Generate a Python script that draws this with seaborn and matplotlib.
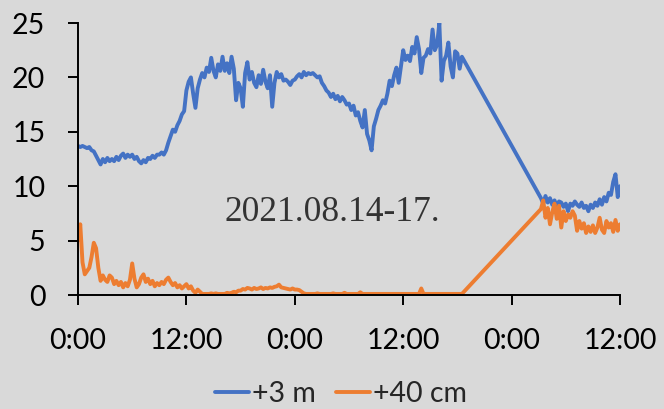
import numpy as np
import pandas as pd
import matplotlib
matplotlib.use("Agg")
import matplotlib.pyplot as plt
from matplotlib.lines import Line2D
import seaborn as sns

# ---- data (hours from start) ----
seg1_start = 0.0
seg2_start = 51.25
step = 0.25

blue_seg1 = [
    13.7, 13.6, 13.7, 13.6,
    13.5, 13.6, 13.3, 13.2,
    12.8, 12.4, 12.0, 12.5,
    12.2, 12.6, 12.3, 12.5,
    12.3, 12.7, 12.4, 12.8,
    13.0, 12.6, 12.9, 12.7,
    12.9, 12.5, 12.7, 12.3,
    12.1, 12.4, 12.2, 12.6,
    12.5, 12.8, 12.6, 12.9,
    12.9, 13.1, 12.9, 13.3,
    14.0, 14.6, 15.2, 15.0,
    15.6, 16.0, 16.6, 16.9,
    18.8, 19.6, 20.0, 18.5,
    17.2, 19.0, 19.8, 20.4,
    20.0, 20.9, 20.5, 21.8,
    20.6, 20.0, 21.2, 20.6,
    21.9, 20.6, 21.3, 20.4,
    21.9, 20.8, 17.9, 19.5,
    19.0, 17.3, 20.4, 21.4,
    19.8, 20.5, 19.5, 19.1,
    20.2, 19.4, 20.7, 19.6,
    19.0, 20.2, 17.3, 19.5,
    20.5, 20.0, 20.3, 19.7,
    19.8, 19.6, 19.3, 19.7,
    19.8, 20.1, 20.3, 20.0,
    20.5, 20.2, 20.4, 20.3,
    20.4, 20.2, 20.0, 20.1,
    19.5, 19.2, 18.8, 18.6,
    18.2, 18.5, 18.0, 18.3,
    17.8, 18.2, 17.9, 17.5,
    17.6, 17.0, 17.4, 16.5,
    16.8, 16.0, 15.4, 17.0,
    14.8, 14.2, 13.3, 15.5,
    16.2, 17.0, 17.4, 17.9,
    17.6, 18.5, 19.7, 19.2,
    20.2, 20.9, 19.5, 21.0,
    22.5, 21.6, 22.0, 21.5,
    22.8, 22.2, 23.7, 22.6,
    20.4, 21.8, 22.0, 22.6,
    22.2, 24.4, 22.5, 23.0,
    25.0, 19.7, 21.5, 22.0,
    23.2, 21.0, 20.0, 22.4,
    22.2, 20.8, 21.9,
]
blue_seg2 = [
    8.9, 8.4, 9.1,
    8.5, 8.9, 8.3, 8.7,
    8.2, 8.6, 8.5, 8.1,
    8.4, 7.7, 8.4, 8.2,
    8.6, 8.3, 8.1, 8.5,
    8.0, 8.2, 7.7, 8.3,
    8.0, 8.5, 8.2, 8.8,
    8.3, 9.0, 8.6, 9.4,
    9.2, 10.4, 11.1, 9.0,
    10.0,
]
orange_seg1 = [
    5.0, 6.5, 3.0, 1.9,
    2.2, 2.5, 3.5, 4.8,
    4.3, 2.5, 1.3, 1.8,
    1.4, 1.2, 1.8, 1.6,
    1.0, 1.3, 0.9, 1.2,
    0.7, 1.1, 0.8, 1.4,
    2.9, 1.5, 0.7, 1.0,
    1.6, 1.9, 1.2, 1.5,
    1.0, 1.3, 0.8, 1.1,
    0.9, 1.2, 1.0, 1.4,
    1.6, 1.2, 0.9, 1.1,
    0.7, 0.9, 0.6, 0.8,
    1.0, 0.6, 0.8, 0.4,
    0.2, 0.5, 0.3, 0.1,
    0.1, 0.1, 0.1, 0.15,
    0.1, 0.15, 0.1, 0.1,
    0.1, 0.1, 0.2, 0.15,
    0.2, 0.3, 0.25, 0.4,
    0.4, 0.55, 0.5, 0.65,
    0.6, 0.5, 0.65, 0.55,
    0.6, 0.7, 0.55, 0.65,
    0.6, 0.7, 0.65, 0.75,
    0.8, 0.95, 0.7, 0.65,
    0.6, 0.55, 0.5, 0.6,
    0.5, 0.5, 0.45, 0.3,
    0.15, 0.1, 0.1, 0.1,
    0.1, 0.1, 0.15, 0.1,
    0.1, 0.1, 0.1, 0.1,
    0.1, 0.15, 0.1, 0.1,
    0.1, 0.1, 0.2, 0.1,
    0.1, 0.1, 0.1, 0.1,
    0.1, 0.25, 0.1, 0.1,
    0.1, 0.1, 0.1, 0.1,
    0.1, 0.1, 0.1, 0.1,
    0.1, 0.1, 0.1, 0.1,
    0.1, 0.1, 0.1, 0.1,
    0.1, 0.1, 0.1, 0.1,
    0.1, 0.1, 0.1, 0.1,
    0.6, 0.1, 0.1, 0.1,
    0.1, 0.1, 0.1, 0.1,
    0.1, 0.1, 0.1, 0.1,
    0.1, 0.1, 0.1, 0.1,
    0.1, 0.1, 0.1,
]
orange_seg2 = [
    7.9, 8.7, 7.1,
    8.0, 6.5, 7.6, 8.4,
    7.0, 8.2, 6.2, 7.7,
    6.8, 7.4, 7.1, 7.7,
    7.3, 5.9, 6.8, 6.1,
    6.6, 5.7, 6.3, 5.8,
    6.4, 5.7, 6.2, 7.1,
    6.0, 5.7, 6.8, 6.2,
    6.6, 5.8, 6.9, 5.9,
    6.5,
]
series_names = ["+3 m", "+40 cm"]
series_colors = ["#4472C4", "#ED7D31"]
tick_hours = [0, 12, 24, 36, 48, 60]
tick_labels = ["0:00", "12:00", "0:00", "12:00", "0:00", "12:00"]
y_ticks = [0, 5, 10, 15, 20, 25]
annotation = "2021.08.14-17."

# ---- build table ----
t1 = np.arange(len(blue_seg1)) * step + seg1_start
t2 = np.arange(len(blue_seg2)) * step + seg2_start
times = np.concatenate([t1, t2])
df = pd.concat([
    pd.DataFrame({"t": times, "v": blue_seg1 + blue_seg2, "s": series_names[0]}),
    pd.DataFrame({"t": times, "v": orange_seg1 + orange_seg2, "s": series_names[1]}),
], ignore_index=True)

bg = "#D9D9D9"
sns.set_theme(style="white")
plt.rcParams["font.family"] = ["Lato", "DejaVu Sans"]

fig = plt.figure(figsize=(6.64, 4.09), dpi=100, facecolor=bg)
ax = fig.add_axes([78 / 664, 1 - 295 / 409, (620 - 78) / 664, (295 - 23) / 409])
ax.set_facecolor(bg)

sns.lineplot(data=df, x="t", y="v", hue="s", palette=series_colors,
             linewidth=2.8, ax=ax, legend=False, sort=False, estimator=None)

ax.set_xlim(0, 60)
ax.set_ylim(0, 25)
ax.set_xticks(tick_hours)
ax.set_xticklabels(tick_labels)
ax.set_yticks(y_ticks)
ax.set_xlabel("")
ax.set_ylabel("")
for side in ["top", "right"]:
    ax.spines[side].set_visible(False)
for side in ["left", "bottom"]:
    ax.spines[side].set_color("black")
    ax.spines[side].set_linewidth(1.4)
ax.tick_params(axis="both", direction="out", length=7.5, width=1.4,
               color="black", labelsize=20.5, labelcolor="black", pad=16)
ax.tick_params(axis="x", bottom=True)
ax.tick_params(axis="y", left=True)

ax.text(28.2, 7.6, annotation, ha="center", va="center", fontsize=25.5,
        family=["Liberation Serif", "DejaVu Serif"], color="#333333")

handles = [Line2D([], [], color=c, linewidth=2.8) for c in series_colors]
leg = fig.legend(handles, series_names, loc="center", bbox_to_anchor=(341 / 664, 1 - 394 / 409),
                 ncol=2, frameon=False, fontsize=20.5, handlelength=1.2,
                 handletextpad=0.1, columnspacing=0.7, borderaxespad=0, borderpad=0)

fig.savefig("out.png", dpi=100, facecolor=bg)
